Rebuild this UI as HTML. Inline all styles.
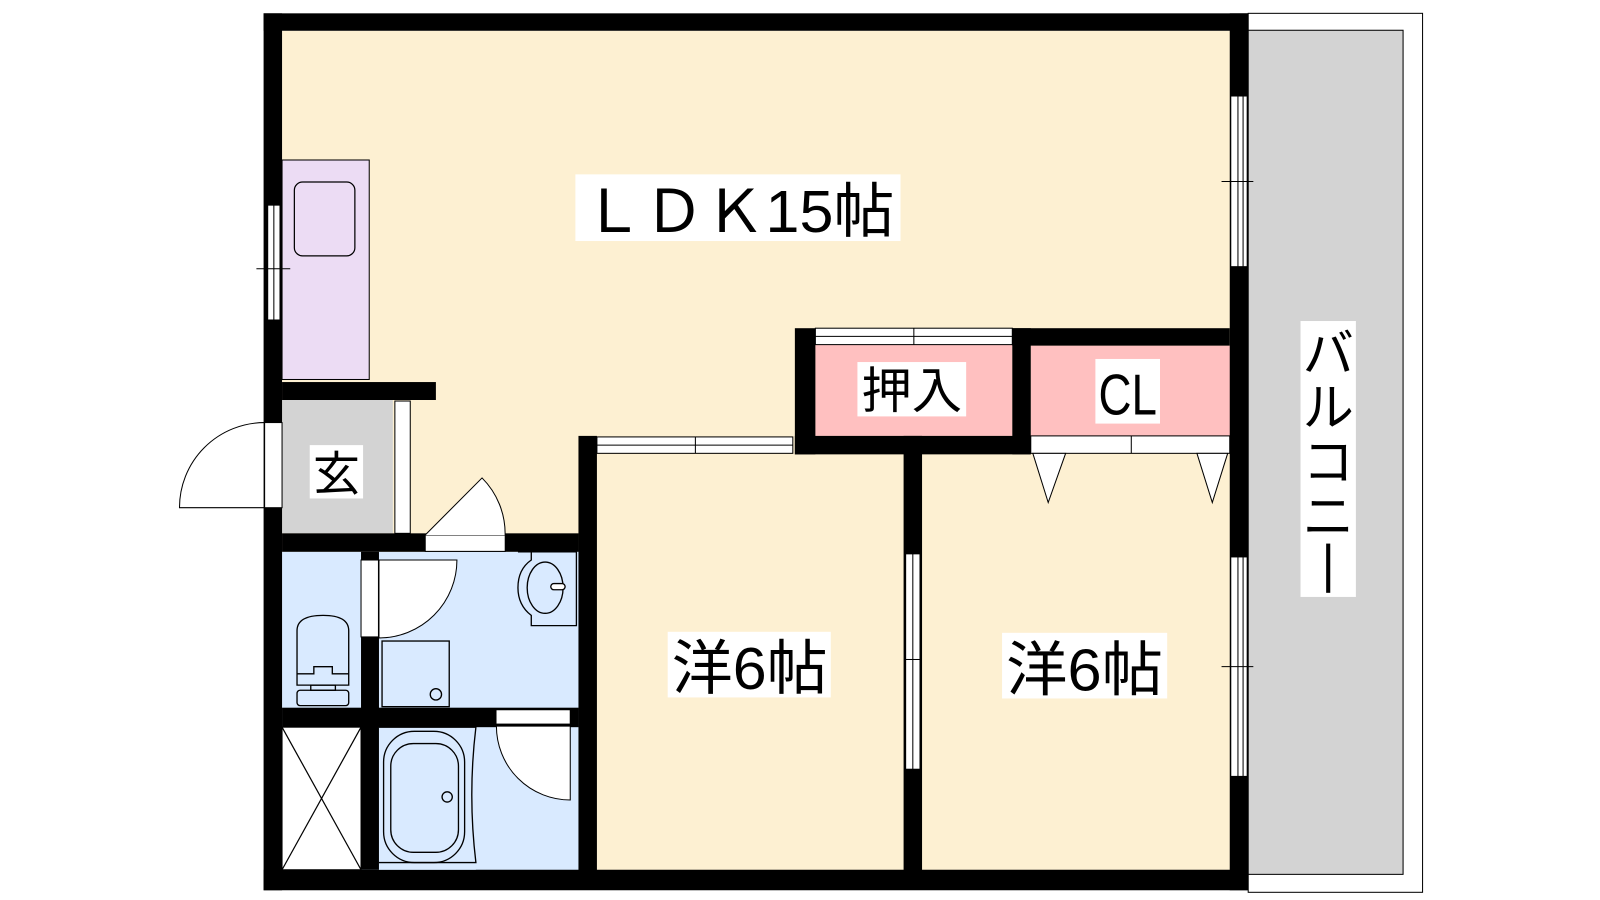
<!DOCTYPE html>
<html><head><meta charset="utf-8"><style>
html,body{margin:0;padding:0;background:#fff;}
svg{display:block;}
text{font-family:"Liberation Sans","Noto Sans CJK JP",sans-serif;fill:#000;}
</style></head><body>
<svg width="1600" height="900" viewBox="0 0 1560 877.5" xmlns="http://www.w3.org/2000/svg">
<rect x="0" y="0" width="1560" height="878" fill="#fff"/>
<!-- balcony -->
<rect x="1217" y="13" width="170" height="857" fill="#fff" stroke="#000" stroke-width="1"/>
<rect x="1217" y="29.5" width="151" height="823" fill="#d3d3d3" stroke="#000" stroke-width="1"/>
<!-- interior cream -->
<rect x="275" y="30" width="925" height="820" fill="#fdf0d2"/>
<!-- kitchen -->
<rect x="275" y="156" width="85" height="214" fill="#ecdcf4" stroke="#000" stroke-width="1"/>
<rect x="287" y="177.5" width="59" height="72" rx="8" fill="#ecdcf4" stroke="#000" stroke-width="1.2"/>
<!-- genkan -->
<rect x="275" y="390" width="108" height="130" fill="#d3d3d3"/>
<rect x="385" y="391" width="15" height="129" fill="#fff" stroke="#000" stroke-width="1"/>
<!-- wet area blue -->
<rect x="275" y="538" width="289" height="311" fill="#d9eaff"/>
<!-- closets -->
<rect x="795" y="336" width="192" height="89" fill="#ffc0c0"/>
<rect x="1005" y="337" width="195" height="88" fill="#ffc0c0"/>
<!-- storage X -->
<rect x="275" y="709" width="77" height="139" fill="#fff" stroke="#000" stroke-width="1"/>
<line x1="275" y1="709" x2="352" y2="848" stroke="#000" stroke-width="1.2"/>
<line x1="352" y1="709" x2="275" y2="848" stroke="#000" stroke-width="1.2"/>

<g fill="#000">
<rect x="257" y="13" width="960" height="17"/>
<rect x="257" y="848" width="960" height="20"/>
<rect x="257" y="13" width="18" height="855"/>
<rect x="1199" y="13" width="18" height="855"/>
<rect x="275" y="372.5" width="150" height="17.5"/>
<rect x="275" y="520" width="289" height="18"/>
<rect x="564" y="425" width="18" height="425"/>
<rect x="352" y="538" width="17.5" height="310"/>
<rect x="275" y="690" width="289" height="19"/>
<rect x="775" y="320" width="20" height="123"/>
<rect x="775" y="425" width="230" height="18"/>
<rect x="987" y="320" width="18" height="123"/>
<rect x="987" y="320" width="212" height="17"/>
<rect x="881" y="425" width="18" height="425"/>
</g>

<!-- windows -->
<g fill="#fff" stroke="#000" stroke-width="1">
<rect x="261" y="200" width="12" height="112"/>
<line x1="267" y1="200" x2="267" y2="312"/>
<line x1="250" y1="262" x2="283" y2="262"/>
<rect x="1200" y="93.6" width="16" height="166.4"/>
<line x1="1207" y1="93.6" x2="1207" y2="260"/>
<line x1="1212" y1="93.6" x2="1212" y2="260"/>
<line x1="1191" y1="177" x2="1222" y2="177"/>
<rect x="1200" y="543" width="16" height="214"/>
<line x1="1207" y1="543" x2="1207" y2="757"/>
<line x1="1212" y1="543" x2="1212" y2="757"/>
<line x1="1191" y1="650" x2="1222" y2="650"/>
<rect x="883" y="540" width="14" height="210"/>
<line x1="890" y1="540" x2="890" y2="750"/>
<line x1="883" y1="643" x2="897" y2="643"/>
<rect x="582" y="426" width="191" height="16"/>
<line x1="582" y1="434" x2="773" y2="434"/>
<line x1="678" y1="426" x2="678" y2="442"/>
<rect x="795" y="320" width="192" height="16"/>
<line x1="795" y1="328" x2="987" y2="328"/>
<line x1="891" y1="320" x2="891" y2="336"/>
<rect x="258" y="412" width="17" height="83"/>
<path d="M258 412 A83 83 0 0 0 175 495 L258 495" fill="none"/>
<rect x="414.6" y="521.6" width="78" height="16"/>
<path d="M414.6 521.6 L470 466 A77 77 0 0 1 492.5 521.6" fill="#fff"/>
<rect x="352" y="546" width="17" height="75"/>
<path d="M369.5 546 L445.5 546 A76 76 0 0 1 369.5 622 Z"/>
<rect x="483.6" y="692" width="72.4" height="14"/>
<path d="M556 708 L556 780 A72 72 0 0 1 484 708 Z"/>
<rect x="1005" y="425" width="194" height="17"/>
<line x1="1103" y1="425" x2="1103" y2="442"/>
<path d="M1007 442 L1022 490 L1039 442 Z"/>
<path d="M1167 442 L1182 490 L1197 442 Z"/>
</g>

<g fill="none" stroke="#000" stroke-width="1.3">
<path d="M505 538 L562 538 L562 610 L518 610 L518 600 Q505 590 505 573 Q505 555 518 546 L518 538" fill="#d9eaff"/>
<ellipse cx="531.5" cy="573" rx="17.5" ry="25"/>
<rect x="537" y="569" width="14" height="6" rx="3" fill="#fff"/>
<rect x="372.5" y="625" width="65.5" height="64"/>
<circle cx="425" cy="677" r="5.5"/>
<path d="M289.6 668 L289.6 615 Q289.6 600 315 600 Q340 600 340 615 L340 668 Z"/>
<path d="M289.6 657 L306 657 L306 650 L324 650 L324 657 L340 657"/>
<rect x="303" y="668" width="24" height="5"/>
<rect x="289.6" y="673" width="50.4" height="15" rx="3"/>
<rect x="369.5" y="709" width="94.5" height="139" fill="#d9eaff" stroke="none"/>
<path d="M369.5 709 L464 709 Q456 775 464 841 L369.5 841"/>
<rect x="374" y="713" width="79" height="128" rx="30"/>
<rect x="381" y="725" width="66" height="106" rx="22"/>
<circle cx="436" cy="777" r="5"/>
</g>

<rect x="561" y="170" width="317" height="65" fill="#fff"/>
<text x="568" y="226" font-size="58" textLength="304" lengthAdjust="spacingAndGlyphs">ＬＤＫ15帖</text>
<rect x="302" y="434" width="52" height="52" fill="#fff"/>
<text x="305" y="478" font-size="46">玄</text>
<rect x="836" y="353" width="106" height="53" fill="#fff"/>
<text x="840" y="398" font-size="48" textLength="98" lengthAdjust="spacingAndGlyphs">押入</text>
<rect x="1068" y="350" width="63" height="63" fill="#fff"/>
<text x="1071" y="404" font-size="56" textLength="57" lengthAdjust="spacingAndGlyphs">CL</text>
<rect x="651" y="616" width="159" height="64" fill="#fff"/>
<text x="655" y="672" font-size="58" textLength="152" lengthAdjust="spacingAndGlyphs">洋6帖</text>
<rect x="977" y="617" width="161" height="64" fill="#fff"/>
<text x="981" y="673" font-size="58" textLength="153" lengthAdjust="spacingAndGlyphs">洋6帖</text>
<rect x="1268" y="313" width="54" height="269" fill="#fff"/>
<text x="1295" y="362" font-size="50" text-anchor="middle">バ</text>
<text x="1295" y="415" font-size="50" text-anchor="middle">ル</text>
<text x="1295" y="468" font-size="50" text-anchor="middle">コ</text>
<text x="1295" y="521" font-size="50" text-anchor="middle">ニ</text>
<rect x="1293" y="530" width="4" height="48" fill="#000"/>
</svg>
</body></html>
